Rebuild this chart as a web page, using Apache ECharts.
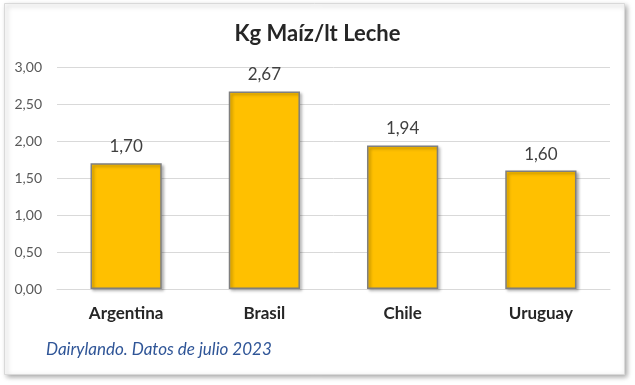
<!DOCTYPE html>
<html><head><meta charset="utf-8">
<script src="https://cdn.jsdelivr.net/npm/echarts@6/dist/echarts.min.js"></script>
<style>html,body{margin:0;padding:0;background:#fff}#c{width:635px;height:385px}</style>
</head><body><div id="c"></div>
<script>
const title = 'Kg Maíz/lt Leche';
const categories = ['Argentina', 'Brasil', 'Chile', 'Uruguay'];
const values = [1.70, 2.67, 1.94, 1.60];
const yTicks = [0, 0.5, 1, 1.5, 2, 2.5, 3];
const footnote = 'Dairylando. Datos de julio 2023';

const fmt = v => v.toFixed(2).replace('.', ',');
const font = 'Lato, "Open Sans", sans-serif';
const chart = echarts.init(document.getElementById('c'), null, {renderer: 'canvas'});
chart.setOption({
  animation: false,
  graphic: [
    {type: 'rect', left: 4, top: 3, shape: {width: 620, height: 371},
     style: {fill: '#fff', stroke: '#d9d9d9', lineWidth: 1, shadowBlur: 5, shadowOffsetX: 2, shadowOffsetY: 2, shadowColor: 'rgba(0,0,0,0.35)'}, z: -10},
    {type: 'text', left: 46, top: 341, style: {text: footnote, font: 'italic 17px ' + font, fill: '#2f5597'}}
  ],
  title: {text: title, left: 'center', top: 18,
    textStyle: {fontFamily: font, fontWeight: 'bold', fontSize: 22, color: '#262626'}},
  grid: {left: 57, right: 25, top: 67, bottom: 96},
  xAxis: {type: 'category', data: categories,
    axisLine: {lineStyle: {color: '#d9d9d9'}}, axisTick: {show: false},
    axisLabel: {fontFamily: font, fontWeight: 'bold', fontSize: 17, color: '#262626', margin: 16}},
  yAxis: {type: 'value', min: yTicks[0], max: yTicks[yTicks.length - 1], interval: 0.5,
    axisLine: {show: false}, axisTick: {show: false},
    splitLine: {lineStyle: {color: '#d9d9d9'}},
    axisLabel: {fontFamily: font, fontSize: 14, color: '#595959', margin: 15, formatter: fmt}},
  series: [{type: 'bar', data: values, barWidth: '51.5%',
    itemStyle: {color: '#ffc000', borderColor: '#7f7f7f', borderWidth: 1.5,
      shadowBlur: 3, shadowOffsetX: 2, shadowOffsetY: 2, shadowColor: 'rgba(0,0,0,0.3)'},
    label: {show: true, position: 'top', distance: 8, formatter: p => fmt(p.value),
      fontFamily: font, fontSize: 17, color: '#404040'}}]
});
</script></body></html>
